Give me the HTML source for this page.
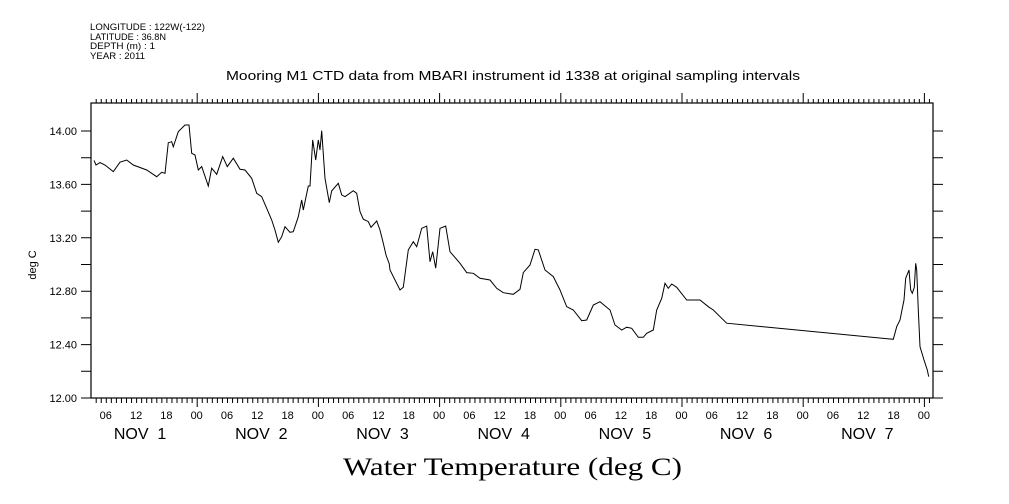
<!DOCTYPE html>
<html><head><meta charset="utf-8">
<style>
body{margin:0;background:#fff;}
svg{display:block;}
text{font-family:"Liberation Sans",sans-serif;fill:#000;}
</style></head>
<body>
<svg id="chart" width="1009" height="504" xmlns="http://www.w3.org/2000/svg">
<g font-size="9">
<text x="90" y="30" textLength="115" lengthAdjust="spacingAndGlyphs">LONGITUDE : 122W(-122)</text>
<text x="90" y="40" textLength="76" lengthAdjust="spacingAndGlyphs">LATITUDE : 36.8N</text>
<text x="90" y="49" textLength="65" lengthAdjust="spacingAndGlyphs">DEPTH (m) : 1</text>
<text x="90" y="59" textLength="55" lengthAdjust="spacingAndGlyphs">YEAR : 2011</text>
</g>
<text x="226" y="80" textLength="574" lengthAdjust="spacingAndGlyphs" font-size="13">Mooring M1 CTD data from MBARI instrument id 1338 at original sampling intervals</text>
<text x="343" y="475" textLength="339" lengthAdjust="spacingAndGlyphs" font-size="25" style="font-family:'Liberation Serif',serif">Water Temperature (deg C)</text>
<text transform="translate(36,265) rotate(-90)" text-anchor="middle" font-size="11">deg C</text>
<g id="axes"></g>
<g id="plot"></g>
</svg>
<script>
const hours=[3.66,4.06,4.85,5.84,7.49,8.81,10.14,11.45,14.10,16.08,17.07,17.72,18.38,19.05,19.37,20.36,21.68,22.47,23.01,23.66,24.32,24.99,26.30,26.97,27.96,29.15,30.06,31.25,32.57,33.56,34.89,35.88,36.87,37.86,38.85,39.50,40.16,40.83,41.49,42.48,43.13,44.12,44.79,45.11,46.10,46.44,46.97,47.56,48.08,48.42,48.75,49.41,50.26,50.73,52.04,52.71,53.37,55.01,55.68,56.34,56.99,57.98,58.51,59.64,60.30,60.95,61.49,62.14,62.28,64.26,64.91,65.90,66.89,67.56,68.55,69.54,70.20,70.73,71.33,72.18,73.31,74.16,76.14,77.47,78.77,80.10,82.08,83.41,84.71,86.69,88.02,88.67,90.00,90.99,91.64,92.97,94.61,95.94,97.27,98.57,100.24,101.23,102.54,103.86,105.84,106.83,108.16,109.15,110.14,111.45,112.44,113.11,114.42,115.09,116.08,116.73,117.39,118.06,119.05,121.03,123.66,125.31,126.30,127.96,128.95,161.94,162.61,163.26,164.06,164.40,165.05,165.39,165.70,166.10,166.37,166.57,166.89,167.23,168.02,168.67,168.95];
const temps=[13.78,13.745,13.763,13.745,13.695,13.766,13.783,13.745,13.708,13.658,13.691,13.683,13.912,13.920,13.882,13.995,14.045,14.045,13.833,13.820,13.708,13.733,13.588,13.721,13.676,13.808,13.733,13.796,13.713,13.708,13.646,13.533,13.508,13.421,13.333,13.258,13.166,13.208,13.283,13.241,13.246,13.358,13.483,13.408,13.588,13.588,13.933,13.783,13.933,13.858,14.002,13.646,13.463,13.551,13.608,13.521,13.508,13.553,13.533,13.396,13.339,13.321,13.279,13.326,13.258,13.159,13.071,13.004,12.959,12.809,12.829,13.109,13.171,13.133,13.271,13.288,13.021,13.096,12.972,13.271,13.288,13.096,13.009,12.939,12.934,12.897,12.884,12.822,12.789,12.777,12.814,12.939,12.996,13.114,13.109,12.959,12.909,12.809,12.684,12.659,12.579,12.584,12.697,12.721,12.659,12.547,12.509,12.530,12.522,12.455,12.455,12.485,12.509,12.659,12.747,12.859,12.822,12.854,12.829,12.734,12.734,12.684,12.659,12.597,12.560,12.440,12.534,12.584,12.734,12.897,12.959,12.809,12.784,12.829,13.009,12.959,12.659,12.384,12.285,12.210,12.160];
const yTickLabels=["12.00","12.40","12.80","13.20","13.60","14.00"];
const hourLabels=["06","12","18","00"];
const dayLabels=["NOV  1","NOV  2","NOV  3","NOV  4","NOV  5","NOV  6","NOV  7"];

const L=91,R=933,T=103,B=398;
const H0=75.5, PXH=121.2/24;
function xs(h){return H0+h*PXH;}
function ys(v){return B-(v-12)*133.5;}
const NS="http://www.w3.org/2000/svg";
const axes=document.getElementById('axes'), plot=document.getElementById('plot');
function mk(tag,attrs,parent){const e=document.createElementNS(NS,tag);for(const k in attrs)e.setAttribute(k,attrs[k]);parent.appendChild(e);return e;}
const frame=mk('rect',{x:L,y:T,width:R-L,height:B-T,fill:'none',stroke:'#000','stroke-width':1.2},axes);


let d='';
const hStart=Math.ceil((L-H0)/PXH), hEnd=Math.floor((R-H0)/PXH);
for(let h=hStart;h<=hEnd;h++){
  const x=xs(h)+0.5, maj=(h%24===0);
  d+=`M${x},${B}V${B+(maj?9:5)}M${x},${T}V${T-(maj?10:4)}`;
}
for(let i=0;i<=10;i++){
  const y=ys(12+i*0.2);
  d+=`M${L-10},${y}H${L}M${R},${y}H${R+10}`;
}
const tk=mk('path',{d:d,stroke:'#000','stroke-width':1,fill:'none'},axes);


yTickLabels.forEach(s=>{
  const t=mk('text',{x:L-14,y:ys(parseFloat(s))+4,'text-anchor':'end','font-size':11},axes);
  t.textContent=s;
  
  
});
for(let h=6;h<=hEnd;h+=6){
  const x=xs(h);
  if(x<L||x>R)continue;
  const t=mk('text',{x:x,y:419,'text-anchor':'middle','font-size':11},axes);
  t.textContent=hourLabels[(h/6-1)%4];
  
  
}
dayLabels.forEach((s,i)=>{
  const t=mk('text',{x:xs(i*24+12)+4,y:439,'text-anchor':'middle','font-size':16,style:'white-space:pre'},axes);
  t.textContent=s;
  
  
});
const pts=hours.map((h,i)=>xs(h).toFixed(1)+','+ys(temps[i]).toFixed(1)).join(' ');
const line=mk('polyline',{points:pts,fill:'none',stroke:'#000','stroke-width':1},plot);


</script>
</body></html>
